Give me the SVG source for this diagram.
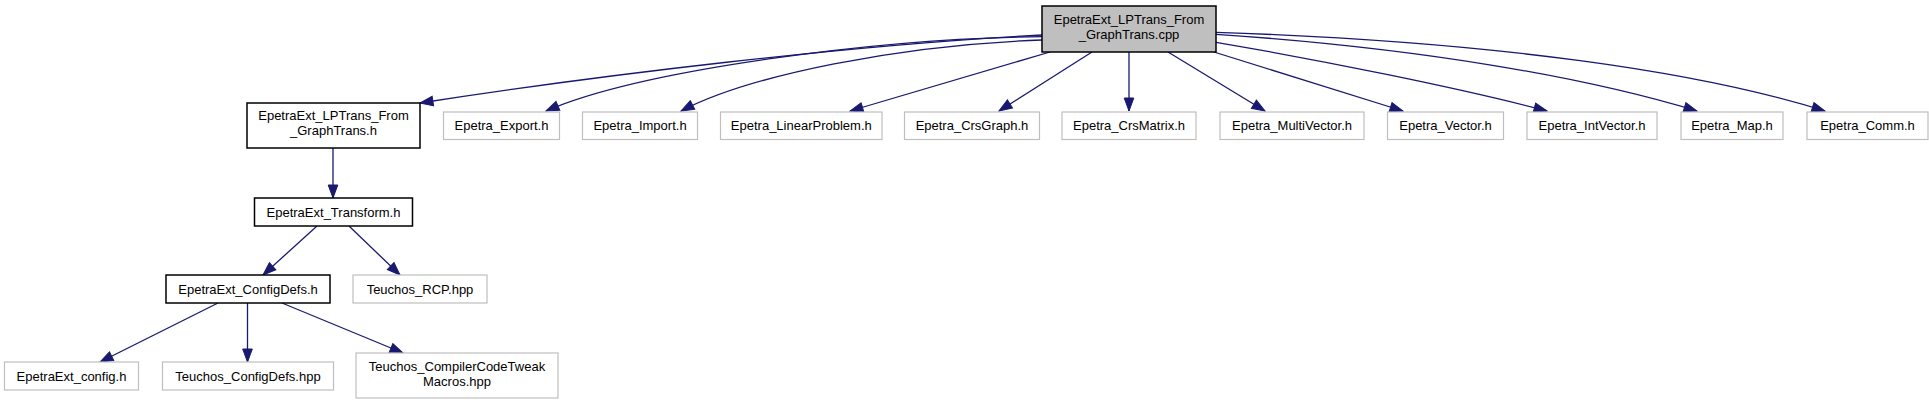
<svg xmlns="http://www.w3.org/2000/svg" width="1929" height="405" viewBox="0 0 1929 405">
<style>
  .bg{fill:#ffffff}
  .n rect{fill:#ffffff;stroke:#bfbfbf;stroke-width:1.2}
  .n.k rect{stroke:#000000;stroke-width:1.5}
  .n.m rect{fill:#bfbfbf;stroke:#000000;stroke-width:1.5}
  .n text{font-family:"Liberation Sans",Arial,sans-serif;font-size:13px;fill:#000000;text-anchor:middle}
  #edges path{fill:none;stroke:#191970;stroke-width:1.3;marker-end:url(#ah)}
</style>
<defs>
  <marker id="ah" markerUnits="userSpaceOnUse" markerWidth="16" markerHeight="12" viewBox="-1 -6 15 12" refX="13" refY="0" orient="auto">
    <path d="M0,-4.8 L13,0 L0,4.8 Z" fill="#191970" stroke="#191970" stroke-width="1"/>
  </marker>
</defs>
<rect class="bg" x="0" y="0" width="1929" height="405"/>
<g id="edges">
  <path d="M1042,35 C850,45 600,75 420,103"/>
  <path d="M1042,36.7 C880,38 640,70 546,111"/>
  <path d="M1042,40 C900,45 750,75 681,111"/>
  <path d="M1050,52 L850,111"/>
  <path d="M1092,52 L999,111"/>
  <path d="M1129,52 L1129,111"/>
  <path d="M1168,52 L1265,111"/>
  <path d="M1214,52 L1403,111"/>
  <path d="M1216,42.3 C1320,60 1460,88 1547,111"/>
  <path d="M1216,34.3 C1420,48 1585,77 1697,111"/>
  <path d="M1216,32.3 C1500,42 1700,72 1825,111"/>
  <path d="M333,148 L333,198"/>
  <path d="M317,226 L263,275"/>
  <path d="M349,226 L400,275"/>
  <path d="M218,303 L100,362"/>
  <path d="M247.5,303 L247.5,362"/>
  <path d="M282,303 L403,353"/>
</g>
<g id="n_main" class="n m"><rect x="1042" y="6" width="174" height="46"/><text x="1129" y="24">EpetraExt_LPTrans_From</text><text x="1129" y="39">_GraphTrans.cpp</text></g>
<g id="n_lptrans_h" class="n k"><rect x="247" y="103" width="173" height="45"/><text x="333.5" y="120">EpetraExt_LPTrans_From</text><text x="333.5" y="135">_GraphTrans.h</text></g>
<g id="n_export" class="n"><rect x="443.5" y="112" width="116" height="27.5"/><text x="501.5" y="130">Epetra_Export.h</text></g>
<g id="n_import" class="n"><rect x="582.5" y="112" width="115" height="27.5"/><text x="640" y="130">Epetra_Import.h</text></g>
<g id="n_linearproblem" class="n"><rect x="720.5" y="112" width="161.5" height="27.5"/><text x="801.3" y="130">Epetra_LinearProblem.h</text></g>
<g id="n_crsgraph" class="n"><rect x="904.5" y="112" width="135" height="27.5"/><text x="972" y="130">Epetra_CrsGraph.h</text></g>
<g id="n_crsmatrix" class="n"><rect x="1062" y="112" width="134" height="27.5"/><text x="1129" y="130">Epetra_CrsMatrix.h</text></g>
<g id="n_multivector" class="n"><rect x="1220" y="112" width="144" height="27.5"/><text x="1292" y="130">Epetra_MultiVector.h</text></g>
<g id="n_vector" class="n"><rect x="1387.5" y="112" width="116" height="27.5"/><text x="1445.5" y="130">Epetra_Vector.h</text></g>
<g id="n_intvector" class="n"><rect x="1527" y="112" width="130" height="27.5"/><text x="1592" y="130">Epetra_IntVector.h</text></g>
<g id="n_map" class="n"><rect x="1681" y="112" width="102" height="27.5"/><text x="1732" y="130">Epetra_Map.h</text></g>
<g id="n_comm" class="n"><rect x="1807" y="112" width="121" height="27.5"/><text x="1867.5" y="130">Epetra_Comm.h</text></g>
<g id="n_transform" class="n k"><rect x="254.5" y="198" width="158" height="28"/><text x="333.5" y="216.5">EpetraExt_Transform.h</text></g>
<g id="n_configdefs" class="n k"><rect x="166" y="275" width="164" height="28"/><text x="248" y="293.5">EpetraExt_ConfigDefs.h</text></g>
<g id="n_rcp" class="n"><rect x="353" y="275" width="134" height="28"/><text x="420" y="293.5">Teuchos_RCP.hpp</text></g>
<g id="n_config_h" class="n"><rect x="4.5" y="362" width="134" height="28"/><text x="71.5" y="380.5">EpetraExt_config.h</text></g>
<g id="n_teuchos_configdefs" class="n"><rect x="162.5" y="362" width="171" height="28"/><text x="248" y="380.5">Teuchos_ConfigDefs.hpp</text></g>
<g id="n_compiler" class="n"><rect x="356" y="353" width="202" height="45"/><text x="457" y="371">Teuchos_CompilerCodeTweak</text><text x="457" y="386">Macros.hpp</text></g>
</svg>
